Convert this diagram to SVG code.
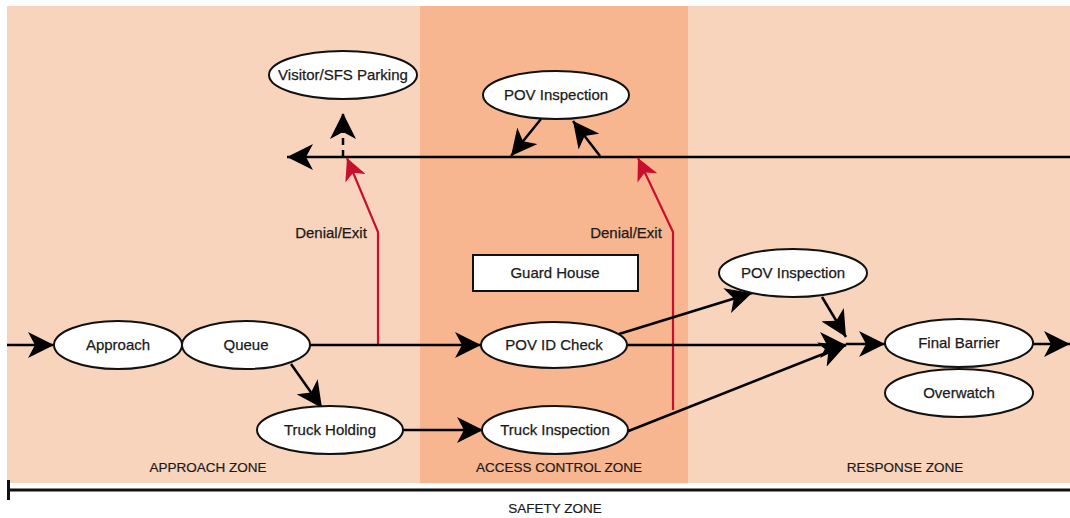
<svg xmlns="http://www.w3.org/2000/svg" width="1070" height="518" viewBox="0 0 1070 518">
<defs>
<marker id="ah" markerUnits="userSpaceOnUse" viewBox="0 0 26 26" refX="26" refY="13" markerWidth="26" markerHeight="26" orient="auto">
<path d="M0,0 L26,13 L0,26 L7,13 z" fill="#000"/>
</marker>
<marker id="ahr" markerUnits="userSpaceOnUse" viewBox="0 0 22 22" refX="22" refY="11" markerWidth="22" markerHeight="22" orient="auto">
<path d="M0,0 L22,11 L0,22 L6,11 z" fill="#c8102e"/>
</marker>
<style>
.node ellipse{fill:#fff;stroke:#111;stroke-width:2}
.node rect{fill:#fff;stroke:#111;stroke-width:2}
.lbl{font-family:"Liberation Sans",Arial,sans-serif;font-size:15px;fill:#1a1a1a;text-anchor:middle;stroke:#1a1a1a;stroke-width:0.25}
.zone{font-family:"Liberation Sans",Arial,sans-serif;font-size:13.5px;fill:#1a1a1a;text-anchor:middle;stroke:#1a1a1a;stroke-width:0.2}
.c{stroke:#000;stroke-width:2.5;fill:none;marker-end:url(#ah)}
.r{stroke:#c8102e;stroke-width:2.2;fill:none;marker-end:url(#ahr)}
</style>
</defs>
<rect x="0" y="0" width="1070" height="518" fill="#fff"/>
<rect x="7" y="6" width="1063" height="477" fill="#f9d4bc"/>
<rect x="420" y="6" width="268" height="477" fill="#f7b590"/>
<text class="zone" x="208" y="472">APPROACH ZONE</text>
<text class="zone" x="559" y="472">ACCESS CONTROL ZONE</text>
<text class="zone" x="905" y="472">RESPONSE ZONE</text>
<line x1="7" y1="490" x2="1070" y2="490" stroke="#111" stroke-width="3"/>
<line x1="8.5" y1="480" x2="8.5" y2="500" stroke="#111" stroke-width="3"/>
<text class="zone" x="555" y="513">SAFETY ZONE</text>
<g id="connectors">
<line class="c" x1="1070" y1="157" x2="287" y2="157"/>
<line class="c" x1="343" y1="157" x2="343" y2="113" stroke-dasharray="7,5"/>
<line class="c" x1="541" y1="119" x2="511" y2="156"/>
<line class="c" x1="600" y1="156" x2="573" y2="121"/>
<polyline class="r" points="378,345 378,232 347,158"/>
<polyline class="r" points="673,410 673,232 638,158"/>
<line class="c" x1="7" y1="345" x2="54" y2="345"/>
<line class="c" x1="310" y1="345" x2="481" y2="345"/>
<line class="c" x1="291" y1="364" x2="322" y2="408"/>
<line class="c" x1="403" y1="430" x2="483" y2="430"/>
<line class="c" x1="627" y1="345" x2="846" y2="345"/>
<line class="c" x1="626" y1="432" x2="846" y2="345"/>
<line class="c" x1="619" y1="334" x2="752" y2="293"/>
<line class="c" x1="822" y1="297" x2="846" y2="337"/>
<line class="c" x1="846" y1="344" x2="885" y2="344"/>
<line class="c" x1="1033" y1="344" x2="1070" y2="344"/>
<text class="lbl" x="331" y="238">Denial/Exit</text>
<text class="lbl" x="626" y="238">Denial/Exit</text>
</g>
<g id="visitor" class="node"><ellipse cx="343" cy="75" rx="74" ry="24"/><text class="lbl" x="343" y="80">Visitor/SFS Parking</text></g>
<g id="povinsp1" class="node"><ellipse cx="556" cy="95" rx="73" ry="24"/><text class="lbl" x="556" y="100">POV Inspection</text></g>
<g id="guard" class="node"><rect x="473" y="255" width="165" height="36"/><text class="lbl" x="555" y="278">Guard House</text></g>
<g id="approach" class="node"><ellipse cx="118" cy="345" rx="64" ry="24"/><text class="lbl" x="118" y="350">Approach</text></g>
<g id="queue" class="node"><ellipse cx="246" cy="345" rx="64" ry="24"/><text class="lbl" x="246" y="350">Queue</text></g>
<g id="truckhold" class="node"><ellipse cx="330" cy="430" rx="73" ry="24"/><text class="lbl" x="330" y="435">Truck Holding</text></g>
<g id="povid" class="node"><ellipse cx="554" cy="345" rx="73" ry="23"/><text class="lbl" x="554" y="350">POV ID Check</text></g>
<g id="truckinsp" class="node"><ellipse cx="555" cy="430" rx="73" ry="24"/><text class="lbl" x="555" y="435">Truck Inspection</text></g>
<g id="povinsp2" class="node"><ellipse cx="793" cy="273" rx="74" ry="24"/><text class="lbl" x="793" y="278">POV Inspection</text></g>
<g id="final" class="node"><ellipse cx="959" cy="343" rx="74" ry="24"/><text class="lbl" x="959" y="348">Final Barrier</text></g>
<g id="overwatch" class="node"><ellipse cx="959" cy="393" rx="74" ry="24"/><text class="lbl" x="959" y="398">Overwatch</text></g>
</svg>
